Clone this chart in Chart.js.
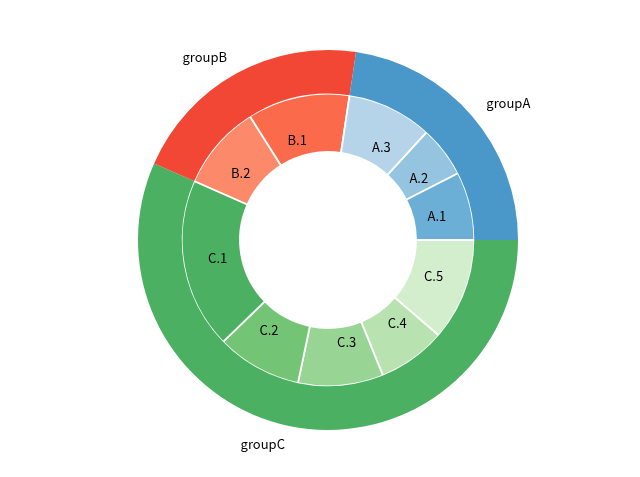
<!DOCTYPE html>
<html>
<head>
<meta charset="utf-8">
<script src="https://cdn.jsdelivr.net/npm/chart.js@4.4.1/dist/chart.umd.min.js"></script>
<style>
    html, body { margin: 0; padding: 0; background: #ffffff; }
    #wrap { width: 640px; height: 477px; position: relative; }
</style>
</head>
<body>
<div id="wrap"><canvas id="nestedPie"></canvas></div>
<script>
const groupNames = ['groupA', 'groupB', 'groupC'];
const groupSize = [12, 11, 30];
const groupColors = ['#4a98c9', '#f24734', '#4bb062'];

const subgroupNames = ['A.1', 'A.2', 'A.3', 'B.1', 'B.2', 'C.1', 'C.2', 'C.3', 'C.4', 'C.5'];
const subgroupSize = [4, 3, 5, 6, 5, 10, 5, 5, 4, 6];
const subgroupColors = ['#6baed6', '#94c4df', '#b6d4e9', '#fb6a4a', '#fc8a6a',
    '#4bb062', '#74c476', '#98d594', '#b8e3b1', '#d3eecd'];

// matplotlib draws counter-clockwise from east; chart.js goes clockwise,
// so feed the slices in reverse order and start at 3 o'clock
const rev = arr => arr.slice().reverse();

const labelPlugin = {
    id: 'sliceLabels',
    afterDatasetsDraw(chart) {
        const ctx = chart.ctx;
        ctx.save();
        ctx.font = '13px "Noto Sans CJK SC", "DejaVu Sans", sans-serif';
        ctx.fillStyle = '#000000';
        ctx.textBaseline = 'middle';
        chart.data.datasets.forEach((ds, i) => {
            const meta = chart.getDatasetMeta(i);
            meta.data.forEach((arc, j) => {
                const mid = (arc.startAngle + arc.endAngle) / 2;
                const r = arc.outerRadius * ds.labelDistance;
                const x = arc.x + Math.cos(mid) * r;
                const y = arc.y + Math.sin(mid) * r;
                ctx.textAlign = Math.cos(mid) > 0 ? 'left' : 'right';
                ctx.fillText(ds.sliceLabels[j], x, y);
            });
        });
        ctx.restore();
    }
};

function initChart() {
    const ctx = document.getElementById('nestedPie').getContext('2d');
    new Chart(ctx, {
        type: 'doughnut',
        data: {
            labels: rev(subgroupNames),
            datasets: [{
                data: rev(groupSize),
                backgroundColor: rev(groupColors),
                borderWidth: 0,
                weight: 3,
                labelDistance: 1.1,
                sliceLabels: rev(groupNames)
            }, {
                data: rev(subgroupSize),
                backgroundColor: rev(subgroupColors),
                borderColor: '#ffffff',
                borderWidth: 1.8,
                weight: 4,
                labelDistance: 0.7,
                sliceLabels: rev(subgroupNames)
            }]
        },
        options: {
            responsive: true,
            maintainAspectRatio: false,
            animation: false,
            rotation: 90,
            radius: 190,
            cutout: 88,
            layout: {
                padding: { left: 138, right: 122, top: 50, bottom: 47 }
            },
            plugins: {
                legend: { display: false },
                tooltip: { enabled: false }
            }
        },
        plugins: [labelPlugin]
    });
}

document.addEventListener('DOMContentLoaded', initChart);
</script>
</body>
</html>
